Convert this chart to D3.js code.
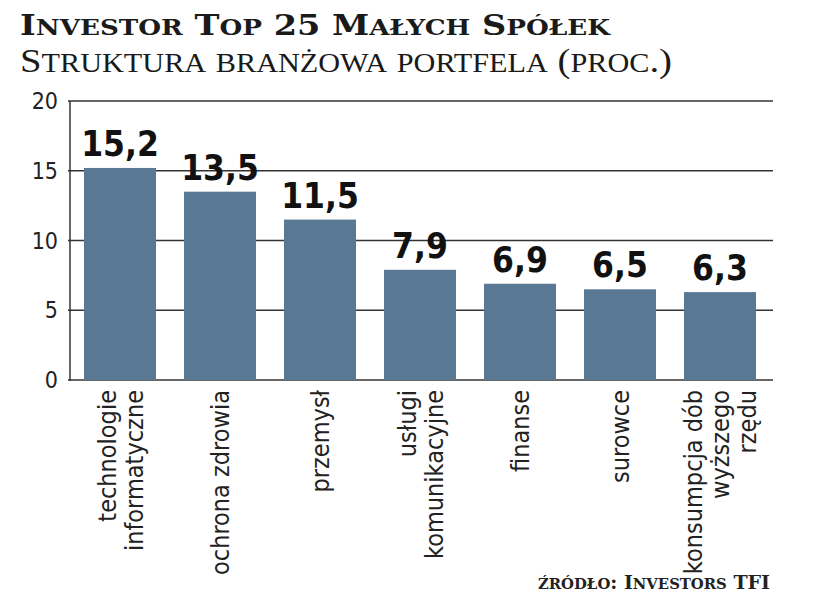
<!DOCTYPE html>
<html><head><meta charset="utf-8">
<script src="https://cdn.jsdelivr.net/npm/d3@7"></script>
<style>body{margin:0;background:#fff}</style></head>
<body><svg id="c" width="824" height="593"></svg>
<script>
const categories=[["technologie","informatyczne"],["ochrona zdrowia"],["przemysł"],["usługi","komunikacyjne"],["finanse"],["surowce"],["konsumpcja dób","wyższego","rzędu"]];
const values=[15.2,13.5,11.5,7.9,6.9,6.5,6.3];
const valueLabels=["15,2","13,5","11,5","7,9","6,9","6,5","6,3"];
const yTicks=[0,5,10,15,20];
const svg=d3.select("#c");
const x=d3.scaleBand().domain(d3.range(7)).range([70,770]).paddingInner(0.28).paddingOuter(0.14);
const y=d3.scaleLinear().domain([0,20]).range([380,101]);
const cond="'DejaVu Sans Condensed','DejaVu Sans',sans-serif";
function smallCaps(t,str,size){
  const parts=[];let cur=null;
  for(const ch of str){const low=ch!==ch.toUpperCase();
    if(!cur||cur.low!==low){cur={low,s:""};parts.push(cur);}cur.s+=ch;}
  parts.forEach(p=>t.append("tspan").attr("font-size",p.low?size*0.78:size).text(p.low?p.s.toUpperCase():p.s));
}
const t1=svg.append("text").attr("x",20).attr("y",35).attr("font-family","'DejaVu Serif',serif").attr("font-weight","bold").attr("fill","#1a1a1a").attr("textLength",590).attr("lengthAdjust","spacingAndGlyphs");
smallCaps(t1,"Investor Top 25 Małych Spółek",28);
const t2=svg.append("text").attr("x",20).attr("y",72).attr("font-family","'Liberation Serif',serif").attr("fill","#1a1a1a").attr("textLength",652).attr("lengthAdjust","spacingAndGlyphs");
smallCaps(t2,"Struktura branżowa portfela (proc.)",34);
svg.selectAll(".g").data(yTicks).join("line").attr("x1",68).attr("x2",773).attr("y1",d=>y(d)).attr("y2",d=>y(d)).attr("stroke","#333").attr("stroke-width",1.5);
svg.append("line").attr("x1",70).attr("x2",70).attr("y1",101).attr("y2",381).attr("stroke","#333").attr("stroke-width",1.5);
svg.selectAll(".t").data(yTicks).join("text").attr("x",58).attr("y",d=>y(d)+8).attr("text-anchor","end").attr("font-family",cond).attr("font-size",23).attr("fill","#222").text(d=>d);
svg.selectAll(".b").data(values).join("rect").attr("x",(d,i)=>x(i)).attr("width",x.bandwidth()).attr("y",d=>y(d)).attr("height",d=>y(0)-y(d)).attr("fill","#587893");
svg.selectAll(".v").data(values).join("text").attr("x",(d,i)=>x(i)+x.bandwidth()/2).attr("y",d=>y(d)-12).attr("text-anchor","middle").attr("font-family",cond).attr("font-weight","bold").attr("font-size",35).attr("fill","#111").text((d,i)=>valueLabels[i]);
categories.forEach((lines,i)=>{
  const cx=x(i)+x.bandwidth()/2, n=lines.length, lh=27;
  lines.forEach((l,j)=>{
    const px=cx+(j-(n-1)/2)*lh+9;
    svg.append("text").attr("transform",`translate(${px},390) rotate(-90)`).attr("text-anchor","end").attr("font-family",cond).attr("font-size",25).attr("fill","#222").text(l);
  });
});
const t3=svg.append("text").attr("x",538).attr("y",589).attr("font-family","'DejaVu Serif',serif").attr("font-weight","bold").attr("fill","#222");
smallCaps(t3,"źródło: Investors TFI",19);
</script></body></html>
